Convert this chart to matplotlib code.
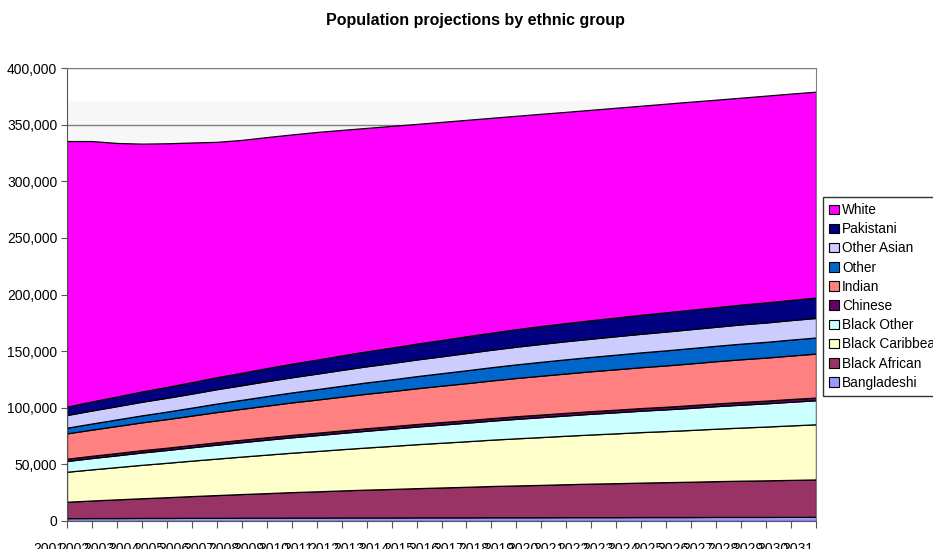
import numpy as np
import matplotlib
matplotlib.use("Agg")
import matplotlib.pyplot as plt
from matplotlib.ticker import FuncFormatter
from matplotlib.transforms import ScaledTranslation

plt.rcParams['font.family'] = ['Liberation Sans', 'DejaVu Sans']

# 数据 (千人)
years = list(range(2001, 2032))
groups = ["Bangladeshi", "Black African", "Black Caribbean", "Black Other", "Chinese",
          "Indian", "Other", "Other Asian", "Pakistani", "White"]
colors = ["#9999FF", "#993366", "#FFFFCC", "#CCFFFF", "#660066",
          "#FF8080", "#0066CC", "#CCCCFF", "#000080", "#FF00FF"]

bangladeshi = [2.5, 2.6, 2.6, 2.7, 2.7, 2.8, 2.8, 2.9, 2.9, 3.0, 3.0, 3.1, 3.1, 3.1, 3.2, 3.2,
               3.2, 3.3, 3.3, 3.3, 3.4, 3.4, 3.4, 3.5, 3.5, 3.5, 3.6, 3.6, 3.6, 3.7, 3.7]
black_african = [14.5, 15.5, 16.5, 17.4, 18.3, 19.2, 20.1, 20.9, 21.7, 22.5, 23.2, 23.9, 24.6, 25.2, 25.8, 26.4,
                 27.0, 27.6, 28.1, 28.6, 29.1, 29.6, 30.0, 30.4, 30.8, 31.2, 31.6, 32.0, 32.3, 32.6, 33.0]
black_caribbean = [26.5, 27.5, 28.5, 29.5, 30.4, 31.3, 32.2, 33.1, 34.0, 34.8, 35.6, 36.4, 37.2, 38.0, 38.8, 39.5,
                   40.2, 40.9, 41.6, 42.2, 42.8, 43.4, 44.0, 44.6, 45.1, 45.7, 46.3, 46.9, 47.5, 48.1, 48.7]
black_other = [9.5, 10.0, 10.4, 10.9, 11.3, 11.8, 12.3, 12.7, 13.2, 13.6, 14.0, 14.4, 14.8, 15.2, 15.6, 16.0,
               16.4, 16.8, 17.2, 17.6, 17.9, 18.3, 18.6, 18.9, 19.2, 19.5, 19.9, 20.2, 20.5, 20.9, 21.2]
chinese = [2.0, 2.0, 2.0, 2.0, 2.0, 2.0, 2.1, 2.1, 2.1, 2.1, 2.1, 2.1, 2.2, 2.2, 2.2, 2.2,
           2.2, 2.2, 2.3, 2.3, 2.3, 2.3, 2.3, 2.3, 2.3, 2.4, 2.4, 2.4, 2.4, 2.4, 2.4]
indian = [22.4, 23.1, 23.9, 24.6, 25.3, 26.0, 26.7, 27.4, 28.0, 28.7, 29.3, 29.9, 30.5, 31.0, 31.6, 32.2,
          32.7, 33.3, 33.8, 34.3, 34.8, 35.2, 35.7, 36.1, 36.5, 36.9, 37.3, 37.7, 38.0, 38.4, 38.8]
other = [5.0, 5.4, 5.8, 6.2, 6.6, 7.0, 7.5, 7.9, 8.4, 8.8, 9.2, 9.6, 10.0, 10.3, 10.7, 11.0,
         11.4, 11.7, 12.0, 12.3, 12.5, 12.7, 12.9, 13.1, 13.3, 13.5, 13.6, 13.8, 13.9, 14.1, 14.2]
other_asian = [11.2, 11.5, 11.7, 12.0, 12.2, 12.4, 12.7, 12.9, 13.2, 13.4, 13.7, 14.0, 14.2, 14.5, 14.7, 14.9,
               15.2, 15.4, 15.6, 15.8, 16.0, 16.1, 16.3, 16.4, 16.6, 16.7, 16.8, 17.0, 17.1, 17.2, 17.3]
pakistani = [7.4, 8.0, 8.5, 9.1, 9.6, 10.1, 10.6, 11.0, 11.5, 12.0, 12.4, 12.8, 13.2, 13.6, 14.0, 14.4,
             14.8, 15.1, 15.5, 15.8, 16.0, 16.3, 16.5, 16.8, 17.0, 17.2, 17.3, 17.5, 17.7, 17.8, 18.0]
white = [234.5, 229.9, 223.9, 218.8, 215.1, 211.6, 207.8, 205.6, 204.0, 202.4, 201.0, 199.1, 197.3, 195.8, 194.0, 192.6,
         191.1, 189.7, 188.4, 187.4, 186.5, 185.8, 185.2, 184.6, 184.2, 183.7, 183.2, 182.7, 182.6, 182.2, 181.8]

series = [bangladeshi, black_african, black_caribbean, black_other, chinese,
          indian, other, other_asian, pakistani, white]
series = [np.array(s) * 1000 for s in series]

fig = plt.figure(figsize=(9.33, 5.49), dpi=100)
ax = fig.add_axes([67/933, 28/549, (816-67)/933, (521-68)/549])

x = np.arange(len(years))
ax.axhspan(0, 371000, color="#f7f7f7", zorder=0)
ax.set_axisbelow(True)
ax.yaxis.grid(True, color="#808080", linewidth=1)
polys = ax.stackplot(x, *series, colors=colors, labels=groups,
                     edgecolor="black", linewidth=0.9, zorder=2)

ax.set_xlim(0, len(years) - 1)
ax.set_ylim(0, 400000)
ax.set_yticks(range(0, 400001, 50000))
ax.yaxis.set_major_formatter(FuncFormatter(lambda v, p: f"{int(v):,}"))
ax.set_xticks(x)
ax.set_xticklabels([str(y) for y in years])
ax.tick_params(axis="y", labelsize=10, length=4, color="#555555", pad=3)
ax.tick_params(axis="x", labelsize=10, length=5, color="#555555", pad=10)
for lab in ax.get_xticklabels():
    lab.set_transform(lab.get_transform() + ScaledTranslation(-0.18, 0, fig.dpi_scale_trans))

for s in ["left", "bottom"]:
    ax.spines[s].set_color("#555555")
for s in ["top", "right"]:
    ax.spines[s].set_color("#808080")

fig.text(475/933, 1 - 20/549, "Population projections by ethnic group",
         ha="center", va="center", fontsize=11.5, fontweight="bold")

h, l = ax.get_legend_handles_labels()
leg = fig.legend(h[::-1], l[::-1], loc="upper left", bbox_to_anchor=(823/933, 1 - 197/549),
                 fontsize=9.8, frameon=True, fancybox=False, edgecolor="black",
                 handlelength=0.7, handleheight=0.7, handletextpad=0.25,
                 labelspacing=0.38, borderpad=0.45, borderaxespad=0)
leg.get_frame().set_linewidth(1)
for p in leg.get_patches():
    p.set_edgecolor("black")
    p.set_linewidth(0.8)

fig.savefig("out.png", dpi=100)
